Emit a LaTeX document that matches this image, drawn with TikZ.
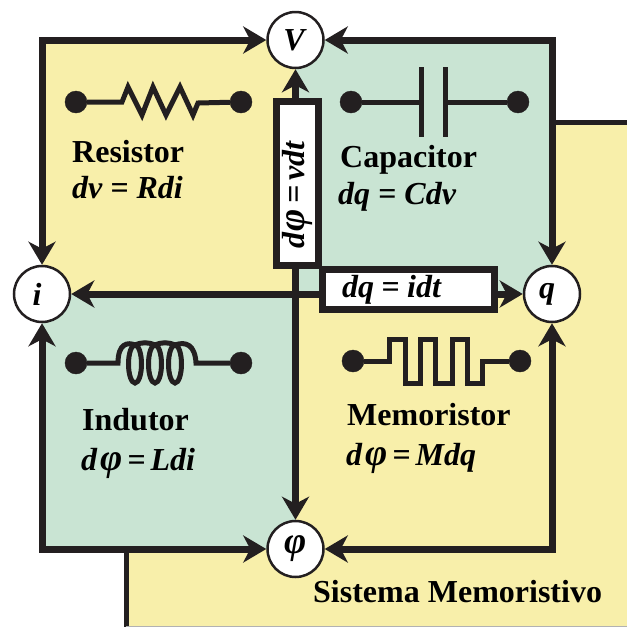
\documentclass[tikz,border=0pt]{standalone}
\usepackage{fontspec}
\setmainfont{Liberation Serif}
\usetikzlibrary{arrows.meta}

\definecolor{ink}{HTML}{231F20}
\definecolor{paleyellow}{HTML}{F8EFAA}
\definecolor{palegreen}{HTML}{C9E4D3}
\newcommand{\fluxsym}{{\fontsize{38}{36}\selectfont φ}}
\newcommand{\eqgap}{\hspace{5pt}}

\begin{document}
\begin{tikzpicture}[
			x = 1pt, y = -1pt,
			> = {Stealth[length = 23pt, width = 27pt, inset = 7pt]},
			wire/.style = {line width = 7pt, draw = ink, <->},
			part/.style = {line width = 5pt, draw = ink, line join = miter},
			dot/.style = {
				circle, draw = ink, fill = ink,
				minimum size = 22pt, inner sep = 0, outer sep = 0,
			},
			var/.style = {
				circle, draw = ink, fill = white, line width = 2.5pt,
				minimum size = 56pt, inner sep = 0,
				font = \fontsize{32}{36}\selectfont\bfseries\itshape,
			},
			title/.style = {
				anchor = base west, inner sep = 0,
				font = \fontsize{32}{36}\selectfont\bfseries,
			},
			eqn/.style = {
				anchor = base west, inner sep = 0,
				font = \fontsize{32}{36}\selectfont\bfseries\itshape,
			},
			tag/.style = {
				draw = ink, fill = white, line width = 7pt,
				inner ysep = 0, align = left,
				font = \fontsize{32}{36}\selectfont\bfseries\itshape,
			},
		]

		\useasboundingbox (0, 0) rectangle (627, 627);

		% quadrants
		\fill[paleyellow] (126, 122) rectangle (627, 626);
		\draw[ink, line width = 5pt] (627, 122) -- (126, 122) -- (126, 627);
		\draw[gray!60, line width = 0.8pt] (126, 626) -- (627, 626);
		\fill[paleyellow] (42, 40) rectangle (295.5, 294);
		\fill[palegreen] (295.5, 40) rectangle (552, 294);
		\fill[palegreen] (42, 294) rectangle (295.5, 549);
		\fill[paleyellow] (295.5, 294) rectangle (552, 549);

		\node[var] (V) at (295.5, 40) {V\kern 3pt};
		\node[var] (i) at (42, 294) {i\kern 10pt};
		\node[var] (q) at (552, 294) {q\kern 10pt};
		\node[var] (phi) at (295.5, 549) {\fluxsym};

		\draw[wire] (i) |- (V);
		\draw[wire] (V) -| (q);
		\draw[wire] (q) |- (phi);
		\draw[wire] (phi) -| (i);
		\draw[wire] (i) -- (q);
		\draw[wire] (V) -- (phi);

		\node[
			tag, rotate = 90,
			minimum width = 164pt, minimum height = 42pt,
			inner xsep = 17pt, text width = 130pt,
		] (flux) at (297, 183) {d\kern 1pt\fluxsym\eqgap=\eqgap vdt};
		\node[
			tag,
			minimum width = 172pt, minimum height = 40pt,
			inner xsep = 19.5pt, text width = 133pt,
		] (charge) at (408.5, 289.5) {dq\hspace{7.5pt}=\hspace{7.5pt}idt};

		% resistor
		\node[dot] (Ra) at (76, 102) {};
		\node[dot] (Rb) at (241, 102) {};
		\draw[part] (Ra) -- (122, 102) -- (128, 87) -- (142, 115) -- (153, 87)
			-- (166, 115) -- (180, 87) -- (193, 115) -- (198, 103) -- (Rb);
		\node[title] (Rname) at (72, 162) {Resistor};
		\node[eqn] (Reqn) at (72, 198) {dv = Rdi};

		% capacitor
		\node[dot] (Ca) at (351, 102) {};
		\node[dot] (Cb) at (518, 102) {};
		\draw[part] (Ca) -- (421, 102);
		\draw[part] (445, 102) -- (Cb);
		\draw[part] (421, 67) -- (421, 137);
		\draw[part] (445, 67) -- (445, 137);
		\node[title] (Cname) at (340, 167) {Capacitor};
		\node[eqn] (Ceqn) at (338, 204) {dq = Cdv};

		% inductor
		\node[dot] (La) at (76, 363) {};
		\node[dot] (Lb) at (241, 363) {};
		\draw[part] (La) -- (118, 363)
			.. controls (118, 343) and (128, 342) .. (135, 345);
		\draw[part] (135, 345) .. controls (142, 342) and (148, 342) .. (155, 345);
		\draw[part] (155, 345) .. controls (162, 342) and (168, 342) .. (175, 345);
		\draw[part] (175, 345) .. controls (186, 341) and (195, 345) .. (196, 363) -- (Lb);
		\draw[part] (135, 364) ellipse (6.5 and 19);
		\draw[part] (155, 364) ellipse (6.5 and 19);
		\draw[part] (175, 364) ellipse (6.5 and 19);
		\node[title] (Lname) at (82, 430) {Indutor};
		\node[eqn] (Leqn) at (81, 470) {d\kern 3pt\fluxsym\eqgap=\eqgap Ldi};

		% memristor
		\node[dot] (Ma) at (353, 361) {};
		\node[dot] (Mb) at (520, 361) {};
		\draw[part] (Ma) -- (389, 361) -- (389, 339) -- (405, 339) -- (405, 383)
			-- (420, 383) -- (420, 339) -- (435, 339) -- (435, 383)
			-- (452, 383) -- (452, 339) -- (467, 339) -- (467, 383)
			-- (482, 383) -- (482, 361) -- (Mb);
		\node[title] (Mname) at (347, 425) {Memoristor};
		\node[eqn] (Meqn) at (346, 465) {d\kern 3pt\fluxsym\eqgap=\eqgap Mdq};

		\node[title] (system) at (313, 602) {Sistema Memoristivo};

	\end{tikzpicture}
\end{document}
